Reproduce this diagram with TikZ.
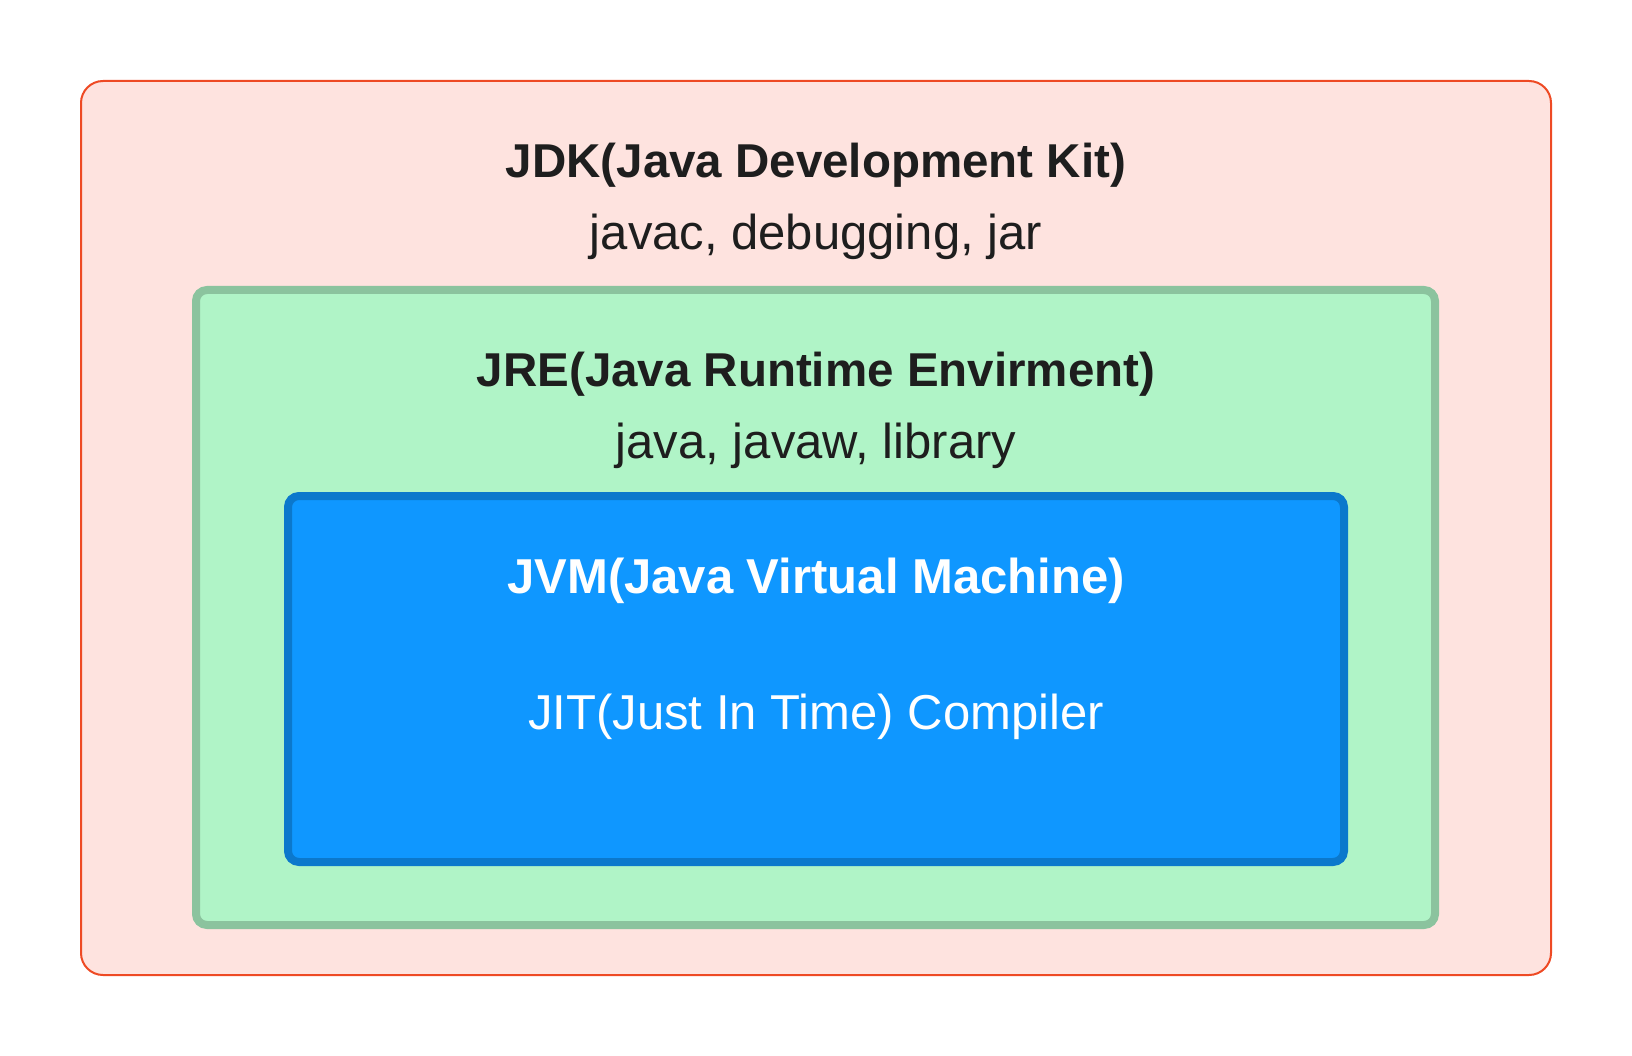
\documentclass[tikz,border=0pt]{standalone}
\usepackage{fontspec}
\setmainfont{Liberation Sans}
\definecolor{jdkfill}{HTML}{FEE3DF}
\definecolor{jdkline}{HTML}{EE4A24}
\definecolor{jrefill}{HTML}{B0F4C7}
\definecolor{jreline}{HTML}{8BC39E}
\definecolor{jvmfill}{HTML}{0F97FF}
\definecolor{jvmline}{HTML}{0B78CC}
\definecolor{txt}{HTML}{1E1E1E}
\tikzset{
  box/.style={rectangle, inner sep=0pt, outer sep=0pt},
  ttl/.style={anchor=base, inner sep=0pt, font=\fontsize{47.5}{52}\selectfont\bfseries},
  sub/.style={anchor=base, inner sep=0pt, font=\fontsize{49}{54}\selectfont},
}
\begin{document}
\begin{tikzpicture}[x=1pt,y=-1pt]
\useasboundingbox (0,0) rectangle (1632,1056);
\node[box, draw=jdkline, fill=jdkfill, line width=2pt, rounded corners=22pt,
  minimum width=1470pt, minimum height=894pt] (jdk) at (816,528) {};
\node[box, draw=jreline, fill=jrefill, line width=8pt, rounded corners=11pt,
  minimum width=1239pt, minimum height=635pt] (jre) at (815.5,607.5) {};
\node[box, draw=jvmline, fill=jvmfill, line width=8pt, rounded corners=11pt,
  minimum width=1056pt, minimum height=366pt] (jvm) at (816,679) {};
\node[ttl, text=txt] (jdkt) at (816,178) {JDK(Java Development Kit)};
\node[sub, text=txt] (jdks) at (816,250) {javac, debugging, jar};
\node[ttl, text=txt] (jret) at (816,386) {JRE(Java Runtime Envirment)};
\node[sub, text=txt] (jres) at (816,458) {java, javaw, library};
\node[ttl, text=white, font=\fontsize{49}{54}\selectfont\bfseries] (jvmt) at (816,593) {JVM(Java Virtual Machine)};
\node[sub, text=white] (jvms) at (816,729) {JIT(Just In Time) Compiler};
\end{tikzpicture}
\end{document}
